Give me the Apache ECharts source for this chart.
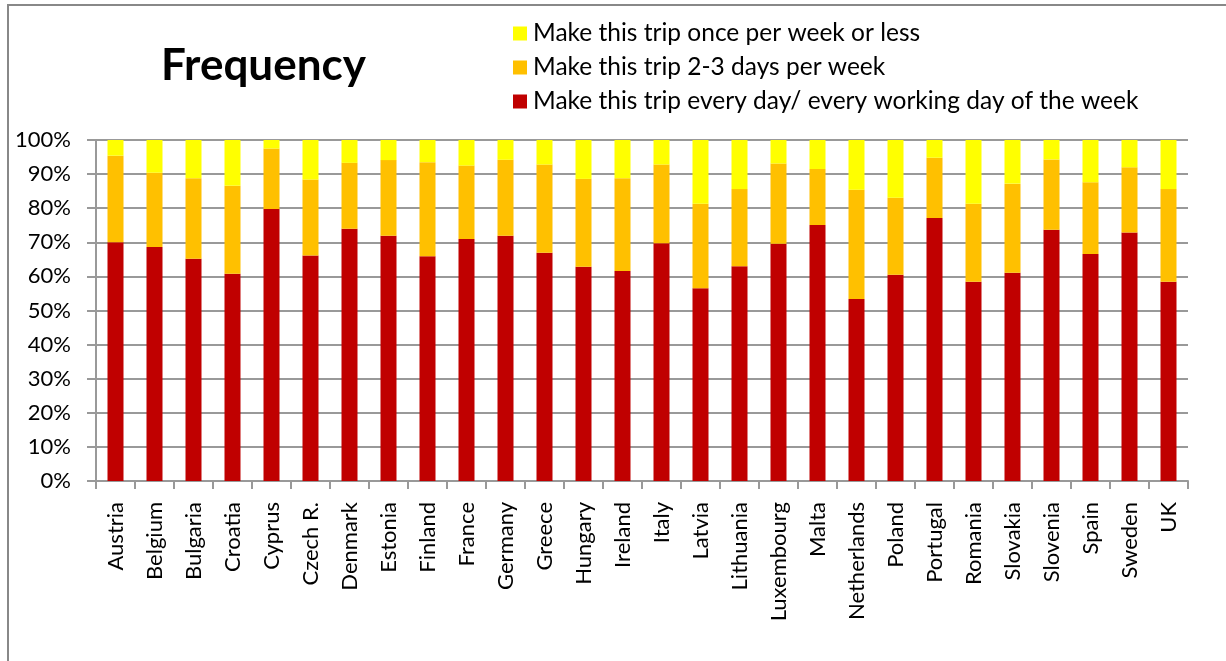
<!DOCTYPE html>
<html>
<head>
<meta charset="utf-8">
<script src="https://cdn.jsdelivr.net/npm/echarts@6/dist/echarts.min.js"></script>
<style>
  html, body { margin: 0; padding: 0; background: #fff; }
  #Frequency { width: 1226px; height: 661px; }
</style>
</head>
<body>
<div id="Frequency"></div>
<script>
// countries on the x axis
const countries = ['Austria', 'Belgium', 'Bulgaria', 'Croatia', 'Cyprus', 'Czech R.', 'Denmark', 'Estonia',
  'Finland', 'France', 'Germany', 'Greece', 'Hungary', 'Ireland', 'Italy', 'Latvia', 'Lithuania',
  'Luxembourg', 'Malta', 'Netherlands', 'Poland', 'Portugal', 'Romania', 'Slovakia', 'Slovenia',
  'Spain', 'Sweden', 'UK']

// share (%) per answer
const everyDay = [70.0, 68.6, 65.2, 60.8, 79.8, 66.1, 74.0, 71.9,
  65.9, 71.0, 71.9, 66.9, 62.8, 61.6, 69.7, 56.5, 63.0,
  69.6, 75.1, 53.4, 60.5, 77.1, 58.4, 61.1, 73.7,
  66.6, 72.9, 58.4]
const twoThreeDays = [25.4, 21.8, 23.6, 25.8, 17.7, 22.3, 19.3, 22.2,
  27.6, 21.5, 22.3, 25.9, 25.8, 27.2, 23.1, 24.8, 22.6,
  23.5, 16.4, 32.0, 22.6, 17.7, 22.9, 26.1, 20.6,
  21.0, 19.1, 27.2]
const oncePerWeek = [4.6, 9.6, 11.2, 13.4, 2.5, 11.6, 6.7, 5.9,
  6.5, 7.5, 5.8, 7.2, 11.4, 11.2, 7.2, 18.7, 14.4,
  6.9, 8.5, 14.6, 16.9, 5.2, 18.7, 12.8, 5.7,
  12.4, 8.0, 14.4]

const seriesNames = [
  'Make this trip every day/ every working day of the week',
  'Make this trip 2-3 days per week',
  'Make this trip once per week or less'
]
const colors = ['#C00000', '#FFC000', '#FFFF00']

const font = 'Lato, "Open Sans", sans-serif'

const myChart = echarts.init(document.getElementById('Frequency'))

const options = {
  animation: false,
  textStyle: { fontFamily: font },
  title: {
    text: 'Frequency',
    left: 156,
    top: 39,
    textStyle: { fontFamily: font, fontSize: 44, fontWeight: 'bold', color: '#000' }
  },
  legend: {
    orient: 'vertical',
    left: 508,
    top: 16,
    itemWidth: 14,
    itemHeight: 14,
    itemGap: 9,
    icon: 'rect',
    // yellow first, red last, like the original
    data: [seriesNames[2], seriesNames[1], seriesNames[0]],
    textStyle: { fontFamily: font, fontSize: 24.5, lineHeight: 24.5, color: '#000', padding: [0, 0, 0, 1] }
  },
  grid: {
    left: 96,
    right: 38,
    top: 140,
    bottom: 180
  },
  xAxis: {
    type: 'category',
    data: countries,
    axisLine: { lineStyle: { color: '#999', width: 2 } },
    axisTick: { show: true, length: 8, lineStyle: { color: '#999', width: 2 } },
    axisLabel: {
      rotate: 90,
      interval: 0,
      margin: 21,
      fontSize: 22,
      color: '#000',
      fontFamily: font
    }
  },
  yAxis: {
    type: 'value',
    min: 0,
    max: 100,
    interval: 10,
    axisLine: { show: true, lineStyle: { color: '#999', width: 2 } },
    axisTick: { show: true, length: 9, lineStyle: { color: '#999', width: 2 } },
    splitLine: { lineStyle: { color: '#999', width: 2 } },
    axisLabel: {
      formatter: '{value}%',
      margin: 25,
      fontSize: 22,
      color: '#000',
      fontFamily: font
    }
  },
  series: [
    { name: seriesNames[0], type: 'bar', stack: 'f', barWidth: 16, data: everyDay, itemStyle: { color: colors[0] } },
    { name: seriesNames[1], type: 'bar', stack: 'f', barWidth: 16, data: twoThreeDays, itemStyle: { color: colors[1] } },
    { name: seriesNames[2], type: 'bar', stack: 'f', barWidth: 16, data: oncePerWeek, itemStyle: { color: colors[2] } }
  ],
  graphic: [
    {
      // outer frame of the chart area
      type: 'rect',
      shape: { x: 8, y: 5, width: 1240, height: 700 },
      style: { fill: 'none', stroke: '#888', lineWidth: 2 },
      silent: true
    }
  ]
}

myChart.setOption(options)
window.addEventListener('resize', () => {
  myChart.resize()
})
</script>
</body>
</html>
